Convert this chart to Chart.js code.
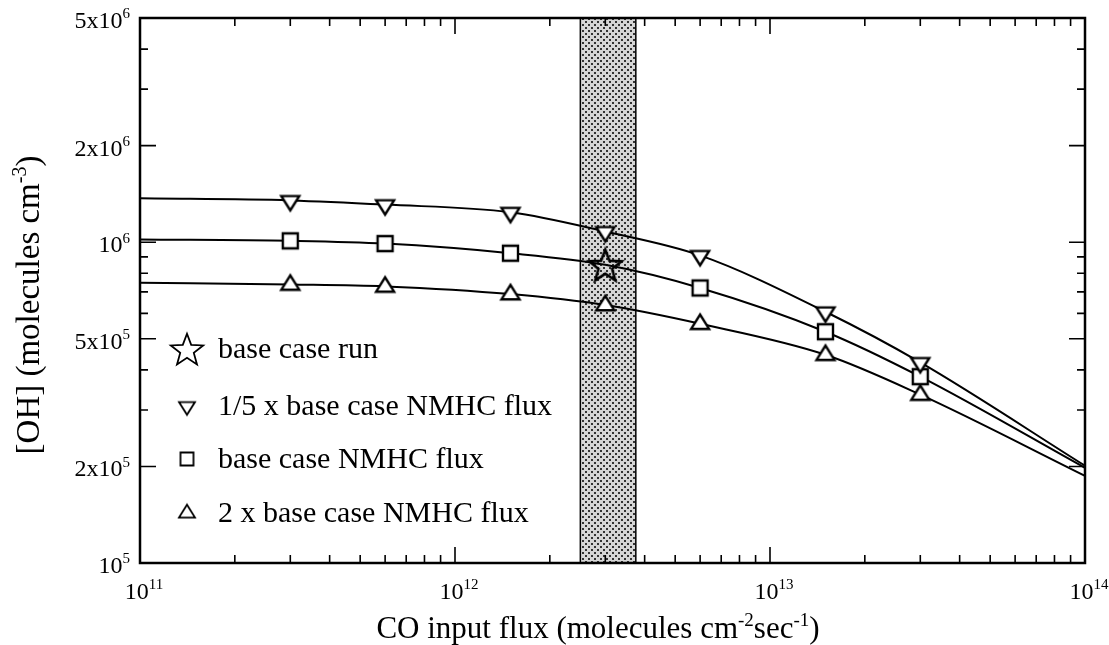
<!DOCTYPE html>
<html>
<head>
<meta charset="utf-8">
<script src="https://cdn.jsdelivr.net/npm/chart.js@4"></script>
<style>
  html, body { margin: 0; padding: 0; background: #fff; }
  #wrap { width: 1109px; height: 645px; position: relative; }
</style>
</head>
<body>
<div id="wrap"><canvas id="ohChart"></canvas></div>
<script>
// CO input flux (molecules cm-2 sec-1) of the model runs
const fluxCO = [1e11, 3e11, 6e11, 1.5e12, 3e12, 6e12, 1.5e13, 3e13, 1e14];
// [OH] (molecules cm-3) for the three NMHC flux cases
const ohFifthNMHC = [1.37e6, 1.35e6, 1.31e6, 1.24e6, 1.08e6, 9.1e5, 6.07e5, 4.22e5, 2.01e5];
const ohBaseNMHC = [1.02e6, 1.01e6, 9.9e5, 9.24e5, 8.5e5, 7.2e5, 5.26e5, 3.81e5, 1.98e5];
const ohDoubleNMHC = [7.47e5, 7.38e5, 7.28e5, 6.89e5, 6.37e5, 5.57e5, 4.46e5, 3.35e5, 1.87e5];
// the base case run
const baseRunFlux = [3e12];
const baseRunOH = [8.5e5];
// shaded CO flux range
const bandFlux = [2.5e12, 3.75e12];
// tick labels
const xTickValues = [1e11, 1e12, 1e13, 1e14];
const xTickExp = ['11', '12', '13', '14'];
const yTickValues = [1e5, 2e5, 5e5, 1e6, 2e6, 5e6];
const yTickMant = ['10', '2x10', '5x10', '10', '2x10', '5x10'];
const yTickExp = ['5', '5', '5', '6', '6', '6'];
const legendLabels = ['base case run', '1/5 x base case NMHC flux', 'base case NMHC flux', '2 x base case NMHC flux'];

const SERIF = '"Liberation Serif", "Times New Roman", serif';

// marker images: open symbols drawn on small canvases
function marker(w, h, lw, fill, draw) {
  const c = document.createElement('canvas');
  c.width = w; c.height = h;
  const g = c.getContext('2d');
  g.strokeStyle = '#000';
  g.fillStyle = '#fff';
  g.lineWidth = lw;
  g.lineJoin = 'miter';
  g.beginPath();
  draw(g, w / 2, h / 2);
  g.closePath();
  if (fill) g.fill();
  g.stroke();
  return c;
}
function triDown(size, lw, fill) {
  const hw = size / 2, th = size * 0.8;
  return marker(size + 6, 2 * th + 8, lw, fill, (g, cx, cy) => {
    g.moveTo(cx - hw, cy - th / 3);
    g.lineTo(cx + hw, cy - th / 3);
    g.lineTo(cx, cy + th * 2 / 3);
  });
}
function triUp(size, lw, fill) {
  const hw = size / 2, th = size * 0.8;
  return marker(size + 6, 2 * th + 8, lw, fill, (g, cx, cy) => {
    g.moveTo(cx - hw, cy + th / 3);
    g.lineTo(cx + hw, cy + th / 3);
    g.lineTo(cx, cy - th * 2 / 3);
  });
}
function square(size, lw, fill) {
  return marker(size + 6, size + 6, lw, fill, (g, cx, cy) => {
    g.rect(cx - size / 2, cy - size / 2, size, size);
  });
}
function star(r, lw) {
  return marker(2 * r + 8, 2 * r + 8, lw, false, (g, cx, cy) => {
    for (let i = 0; i < 10; i++) {
      const rr = i % 2 === 0 ? r : r * 0.42;
      const a = -Math.PI / 2 + i * Math.PI / 5;
      const px = cx + rr * Math.cos(a), py = cy + rr * Math.sin(a) + r * 0.1;
      if (i === 0) g.moveTo(px, py); else g.lineTo(px, py);
    }
  });
}

const plotDown = triDown(18, 2.4, true);
const plotUp = triUp(18, 2.4, true);
const plotSquare = square(15, 2.4, true);
const plotStar = star(17, 2.6);
const legendMarks = [star(17, 1.8), triDown(16, 1.8, false), square(13, 1.8, false), triUp(16, 1.8, false)];

const lastIdx = fluxCO.length - 1;
const markerRadius = fluxCO.map((x, i) => (i === 0 || i === lastIdx) ? 0 : 6);
const squareRadius = fluxCO.map((x, i) => (i === 0 || i === lastIdx || x === baseRunFlux[0]) ? 0 : 6);

function series(values) {
  return fluxCO.map((x, i) => ({ x: x, y: values[i] }));
}

// text with superscripts: parts = [[text, isSup], ...]
function supText(ctx, parts, x, y, align, size) {
  const supSize = Math.round(size * 0.62);
  let total = 0;
  const widths = parts.map(p => {
    ctx.font = (p[1] ? supSize : size) + 'px ' + SERIF;
    const w = ctx.measureText(p[0]).width;
    total += w;
    return w;
  });
  let cx = align === 'right' ? x - total : align === 'center' ? x - total / 2 : x;
  ctx.textAlign = 'left';
  ctx.textBaseline = 'alphabetic';
  parts.forEach((p, i) => {
    ctx.font = (p[1] ? supSize : size) + 'px ' + SERIF;
    ctx.fillText(p[0], cx, p[1] ? y - size * 0.4 : y);
    cx += widths[i];
  });
}

const bandPlugin = {
  id: 'coBand',
  beforeDatasetsDraw(chart) {
    const { ctx, chartArea: ca, scales: { x } } = chart;
    const tile = document.createElement('canvas');
    tile.width = 6; tile.height = 6;
    const t = tile.getContext('2d');
    t.fillStyle = '#d6d6d6';
    t.fillRect(0, 0, 6, 6);
    t.fillStyle = '#333';
    t.fillRect(0, 0, 2, 2);
    t.fillRect(3, 3, 2, 2);
    const x0 = x.getPixelForValue(bandFlux[0]);
    const x1 = x.getPixelForValue(bandFlux[1]);
    ctx.save();
    ctx.fillStyle = ctx.createPattern(tile, 'repeat');
    ctx.fillRect(x0, ca.top, x1 - x0, ca.bottom - ca.top);
    ctx.strokeStyle = '#000';
    ctx.lineWidth = 1.5;
    ctx.beginPath();
    ctx.moveTo(x0, ca.top); ctx.lineTo(x0, ca.bottom);
    ctx.moveTo(x1, ca.top); ctx.lineTo(x1, ca.bottom);
    ctx.stroke();
    ctx.restore();
  }
};

const framePlugin = {
  id: 'frame',
  afterDraw(chart) {
    const { ctx, chartArea: ca, scales: { x, y } } = chart;
    ctx.save();
    ctx.strokeStyle = '#000';
    ctx.fillStyle = '#000';
    ctx.lineWidth = 1.6;
    ctx.beginPath();
    // log ticks on all four sides, pointing inwards
    for (let d = 11; d <= 13; d++) {
      for (let m = 1; m <= 9; m++) {
        const px = x.getPixelForValue(m * Math.pow(10, d));
        const len = m === 1 ? 16 : 8;
        ctx.moveTo(px, ca.bottom); ctx.lineTo(px, ca.bottom - len);
        ctx.moveTo(px, ca.top); ctx.lineTo(px, ca.top + len);
      }
    }
    for (let d = 5; d <= 6; d++) {
      for (let m = 1; m <= 9; m++) {
        const v = m * Math.pow(10, d);
        if (v > 5e6) break;
        const py = y.getPixelForValue(v);
        const len = (m === 1 || m === 2 || m === 5) ? 16 : 8;
        ctx.moveTo(ca.left, py); ctx.lineTo(ca.left + len, py);
        ctx.moveTo(ca.right, py); ctx.lineTo(ca.right - len, py);
      }
    }
    ctx.stroke();
    ctx.lineWidth = 2.5;
    ctx.strokeRect(ca.left, ca.top, ca.right - ca.left, ca.bottom - ca.top);

    // tick labels
    yTickValues.forEach((v, i) => {
      supText(ctx, [[yTickMant[i], false], [yTickExp[i], true]], 130, y.getPixelForValue(v) + 10, 'right', 24);
    });
    xTickValues.forEach((v, i) => {
      supText(ctx, [['10', false], [xTickExp[i], true]], x.getPixelForValue(v) + 4, 599, 'center', 24);
    });

    // axis titles
    supText(ctx, [['CO input flux (molecules cm', false], ['-2', true], ['sec', false], ['-1', true], [')', false]], 598, 638, 'center', 31);
    ctx.save();
    ctx.translate(39, 305);
    ctx.rotate(-Math.PI / 2);
    supText(ctx, [['[OH] (molecules cm', false], ['-3', true], [')', false]], 0, 0, 'center', 33);
    ctx.restore();

    // legend inside the plot
    const rows = [349, 406, 459, 513];
    legendLabels.forEach((label, i) => {
      const img = legendMarks[i];
      ctx.drawImage(img, 187 - img.width / 2, rows[i] - img.height / 2);
      ctx.font = '30px ' + SERIF;
      ctx.textAlign = 'left';
      ctx.textBaseline = 'alphabetic';
      ctx.fillText(label, 218, rows[i] + 9);
    });
    ctx.restore();
  }
};

const lineStyle = {
  borderColor: '#000',
  borderWidth: 2,
  backgroundColor: '#fff',
  fill: false,
  cubicInterpolationMode: 'monotone'
};

new Chart(document.getElementById('ohChart').getContext('2d'), {
  type: 'line',
  data: {
    datasets: [
      {
        label: legendLabels[0],
        data: baseRunFlux.map((x, i) => ({ x: x, y: baseRunOH[i] })),
        showLine: false,
        pointStyle: plotStar,
        pointRadius: 8
      },
      Object.assign({ label: legendLabels[1], data: series(ohFifthNMHC), pointStyle: plotDown, pointRadius: markerRadius }, lineStyle),
      Object.assign({ label: legendLabels[2], data: series(ohBaseNMHC), pointStyle: plotSquare, pointRadius: squareRadius }, lineStyle),
      Object.assign({ label: legendLabels[3], data: series(ohDoubleNMHC), pointStyle: plotUp, pointRadius: markerRadius }, lineStyle)
    ]
  },
  options: {
    responsive: true,
    maintainAspectRatio: false,
    animation: false,
    events: [],
    layout: { padding: { left: 140, right: 24, top: 18, bottom: 82 } },
    scales: {
      x: { type: 'logarithmic', min: 1e11, max: 1e14, display: false },
      y: { type: 'logarithmic', min: 1e5, max: 5e6, display: false }
    },
    plugins: {
      legend: { display: false },
      tooltip: { enabled: false }
    }
  },
  plugins: [bandPlugin, framePlugin]
});
</script>
</body>
</html>
